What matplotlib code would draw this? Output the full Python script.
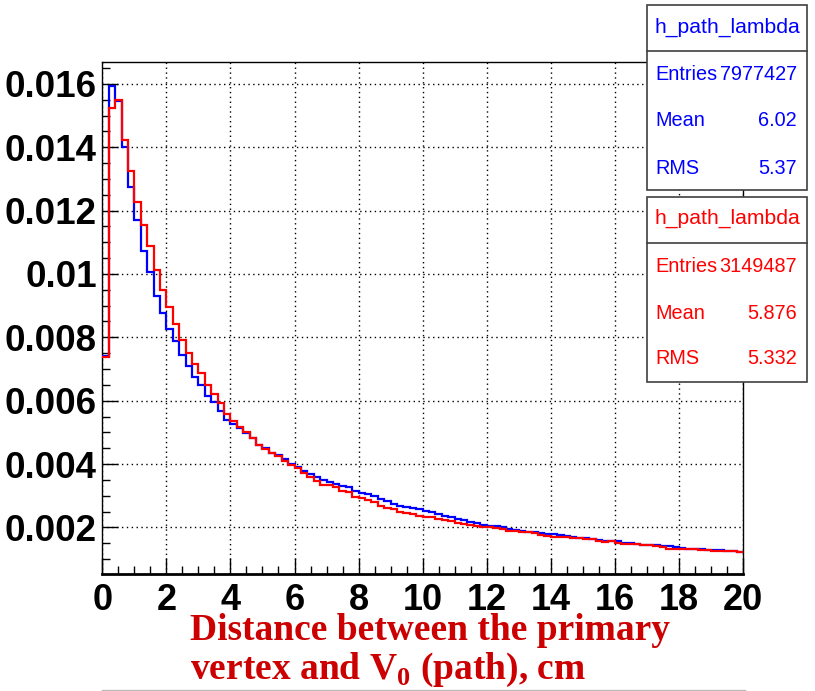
import numpy as np
import matplotlib
matplotlib.use("Agg")
import matplotlib.pyplot as plt
from matplotlib.patches import Rectangle
from matplotlib.lines import Line2D
from matplotlib.ticker import MultipleLocator, FixedLocator, FixedFormatter

# ---- data (bin contents, 100 bins of width 0.2 cm from 0 to 20) ----
x_min, x_max, n_bins = 0.0, 20.0, 100

blue_values = [
    0.00741, 0.01594, 0.01545, 0.01400, 0.01276, 0.01171, 0.01071, 0.01006, 0.00931, 0.00878,
    0.00826, 0.00788, 0.00745, 0.00711, 0.00674, 0.00650, 0.00615, 0.00597, 0.00566, 0.00540,
    0.00527, 0.00513, 0.00499, 0.00482, 0.00460, 0.00450, 0.00434, 0.00428, 0.00415, 0.00401,
    0.00390, 0.00378, 0.00369, 0.00358, 0.00350, 0.00344, 0.00337, 0.00331, 0.00326, 0.00316,
    0.00308, 0.00305, 0.00300, 0.00289, 0.00282, 0.00274, 0.00268, 0.00263, 0.00261, 0.00257,
    0.00253, 0.00249, 0.00243, 0.00236, 0.00232, 0.00226, 0.00222, 0.00218, 0.00213, 0.00209,
    0.00206, 0.00203, 0.00200, 0.00195, 0.00192, 0.00188, 0.00186, 0.00184, 0.00182, 0.00180,
    0.00179, 0.00175, 0.00173, 0.00169, 0.00167, 0.00165, 0.00164, 0.00160, 0.00158, 0.00158,
    0.00156, 0.00152, 0.00151, 0.00149, 0.00146, 0.00146, 0.00144, 0.00142, 0.00140, 0.00138,
    0.00135, 0.00133, 0.00131, 0.00131, 0.00129, 0.00129, 0.00128, 0.00126, 0.00124, 0.00122,
]

red_values = [
    0.00739, 0.01525, 0.01549, 0.01423, 0.01326, 0.01228, 0.01154, 0.01089, 0.01013, 0.00948,
    0.00896, 0.00843, 0.00793, 0.00750, 0.00715, 0.00687, 0.00648, 0.00621, 0.00594, 0.00558,
    0.00536, 0.00518, 0.00502, 0.00482, 0.00460, 0.00448, 0.00434, 0.00426, 0.00409, 0.00396,
    0.00388, 0.00373, 0.00360, 0.00348, 0.00335, 0.00333, 0.00328, 0.00316, 0.00311, 0.00297,
    0.00292, 0.00285, 0.00280, 0.00269, 0.00261, 0.00257, 0.00249, 0.00245, 0.00243, 0.00236,
    0.00234, 0.00232, 0.00226, 0.00224, 0.00221, 0.00213, 0.00210, 0.00207, 0.00205, 0.00201,
    0.00200, 0.00198, 0.00194, 0.00190, 0.00190, 0.00184, 0.00185, 0.00182, 0.00177, 0.00173,
    0.00171, 0.00169, 0.00169, 0.00165, 0.00166, 0.00163, 0.00162, 0.00156, 0.00153, 0.00156,
    0.00150, 0.00147, 0.00147, 0.00147, 0.00145, 0.00143, 0.00140, 0.00138, 0.00133, 0.00133,
    0.00133, 0.00132, 0.00131, 0.00129, 0.00128, 0.00126, 0.00125, 0.00124, 0.00124, 0.00122,
]

x_ticks = [0, 2, 4, 6, 8, 10, 12, 14, 16, 18, 20]
x_tick_labels = ["0", "2", "4", "6", "8", "10", "12", "14", "16", "18", "20"]
y_ticks = [0.002, 0.004, 0.006, 0.008, 0.010, 0.012, 0.014, 0.016]
y_tick_labels = ["0.002", "0.004", "0.006", "0.008", "0.01", "0.012", "0.014", "0.016"]

stat_title = "h_path_lambda"
blue_stats = [("Entries", "7977427"), ("Mean", "6.02"), ("RMS", "5.37")]
red_stats = [("Entries", "3149487"), ("Mean", "5.876"), ("RMS", "5.332")]

x_label_line1 = "Distance between the primary"
x_label_line2 = r"vertex and V$_{\mathbf{0}}$ (path), cm"

# ---- figure ----
W, H = 815, 691
plt.rcParams["mathtext.fontset"] = "custom"
plt.rcParams["mathtext.bf"] = "Liberation Serif:bold"
plt.rcParams["mathtext.rm"] = "Liberation Serif:bold"

fig = plt.figure(figsize=(W / 100, H / 100), dpi=100)


def fx(px):
    return px / W


def fy(py):
    return 1 - py / H


ax_l, ax_r, ax_t, ax_b = 102.3, 743.0, 62.0, 574.3
ax = fig.add_axes([fx(ax_l), fy(ax_b), fx(ax_r - ax_l), (ax_b - ax_t) / H])

edges = np.linspace(x_min, x_max, n_bins + 1)
ax.stairs(blue_values, edges, baseline=None, color="#0000ff", lw=1.6, zorder=3)
ax.stairs(red_values, edges, baseline=None, color="#ff0000", lw=1.6, zorder=4)

ax.set_xlim(x_min, x_max)
ax.set_ylim(0.00052, 0.01669)

ax.xaxis.set_major_locator(FixedLocator(x_ticks))
ax.xaxis.set_major_formatter(FixedFormatter(x_tick_labels))
ax.xaxis.set_minor_locator(MultipleLocator(0.5))
ax.yaxis.set_major_locator(FixedLocator(y_ticks))
ax.yaxis.set_major_formatter(FixedFormatter(y_tick_labels))
ax.yaxis.set_minor_locator(MultipleLocator(0.0005))

ax.tick_params(which="both", direction="in", top=False, right=False, color="black")
ax.tick_params(which="major", length=11.5, width=1.0)
ax.tick_params(which="minor", length=5.8, width=1.0)
ax.tick_params(axis="x", which="major", pad=6, labelsize=26)
ax.tick_params(axis="y", which="major", pad=4, labelsize=26.5)
for lab in ax.get_xticklabels() + ax.get_yticklabels():
    lab.set_fontweight("bold")
    lab.set_fontfamily("Liberation Sans")

ax.grid(True, which="major", color="black", linestyle=(0, (1, 2.5)), linewidth=1.0)
ax.set_axisbelow(True)
for side in ["left", "right", "top"]:
    ax.spines[side].set_linewidth(1.0)
    ax.spines[side].set_color("black")
ax.spines["bottom"].set_linewidth(2.0)


# ---- stat boxes ----
def stat_box(top, bottom, divider, title_y, rows_y, color, stats):
    left, right = 647.3, 806.7
    fig.patches.append(Rectangle((fx(left), fy(bottom)), fx(right - left), (bottom - top) / H,
                                 transform=fig.transFigure, facecolor="white",
                                 edgecolor="#404040", linewidth=1.2, zorder=10))
    fig.lines.append(Line2D([fx(left), fx(right)], [fy(divider), fy(divider)],
                            transform=fig.transFigure, color="#404040", linewidth=1.2, zorder=11))
    fig.text(fx((left + right) / 2), fy(title_y), stat_title, color=color, fontsize=15.2,
             family="Liberation Sans", ha="center", va="center", zorder=12)
    for (name, val), ry in zip(stats, rows_y):
        fig.text(fx(655), fy(ry), name, color=color, fontsize=14.3, family="Liberation Sans",
                 ha="left", va="center", zorder=12)
        fig.text(fx(797), fy(ry), val, color=color, fontsize=14.3, family="Liberation Sans",
                 ha="right", va="center", zorder=12)


stat_box(5.0, 190.0, 51.0, 27.7, [74.0, 120.0, 168.0], "#0000ff", blue_stats)
stat_box(196.7, 381.7, 243.3, 218.3, [266.7, 313.3, 358.3], "#ff0000", red_stats)

# ---- x axis title ----
fig.text(fx(190), fy(631), x_label_line1, color="#cc0000", fontsize=27,
         family="Liberation Serif", fontweight="bold", ha="left", va="center")
fig.text(fx(190), fy(670), x_label_line2, color="#cc0000", fontsize=27,
         family="Liberation Serif", fontweight="bold", ha="left", va="center")

fig.lines.append(Line2D([fx(102), fx(745)], [fy(689.5), fy(689.5)], transform=fig.transFigure,
                        color="#bbbbbb", linewidth=1.0))

fig.savefig("out.png", dpi=100)
